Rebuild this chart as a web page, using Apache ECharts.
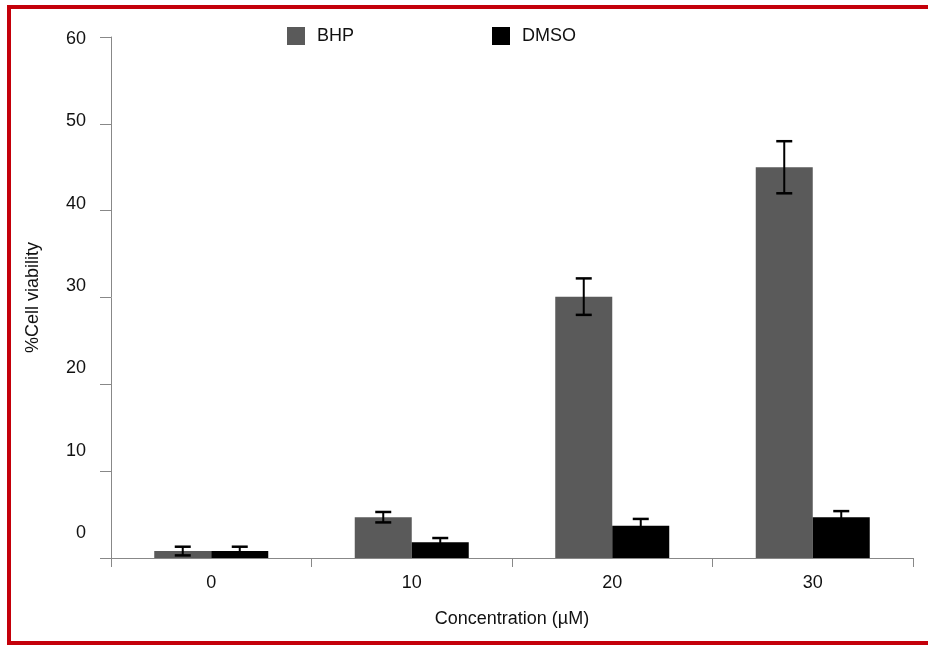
<!DOCTYPE html>
<html>
<head>
<meta charset="utf-8">
<script src="https://cdn.jsdelivr.net/npm/echarts@6/dist/echarts.min.js"></script>
<style>
  html, body { margin: 0; padding: 0; background: #fff; overflow: hidden; }
  #frame { position: absolute; left: 7px; top: 5px; width: 930px; height: 632px; border: 4px solid #c4000a; box-sizing: content-box; }
  #chart { position: absolute; left: 0; top: 0; width: 928px; height: 646px; }
</style>
</head>
<body>
<div id="frame"></div>
<div id="chart"></div>
<script>
const categories = ['0', '10', '20', '30'];
const bhpValues = [0.8, 4.7, 30.1, 45.0];
const bhpErrors = [0.5, 0.6, 2.1, 3.0];
const dmsoValues = [0.8, 1.8, 3.7, 4.7];
const dmsoErrors = [0.5, 0.5, 0.8, 0.7];

const BAR_W = 57;
const FONT = 'Liberation Sans, Arial, sans-serif';
const FS = 18;

function errorSeries(values, errors, shift) {
  return {
    type: 'custom',
    xAxisIndex: 0,
    yAxisIndex: 0,
    z: 5,
    silent: true,
    data: values.map((v, i) => [i, v, errors[i]]),
    encode: { x: 0, y: 1 },
    renderItem: function (params, api) {
      const i = api.value(0), v = api.value(1), e = api.value(2);
      const top = api.coord([i, v + e]);
      const bot = api.coord([i, v - e]);
      const x = top[0] + shift;
      const half = 8;
      const st = { stroke: '#000', lineWidth: 2 };
      return {
        type: 'group',
        children: [
          { type: 'line', shape: { x1: x, y1: top[1], x2: x, y2: bot[1] }, style: st },
          { type: 'line', shape: { x1: x - half, y1: top[1], x2: x + half, y2: top[1] }, style: { stroke: '#000', lineWidth: 2.5 } },
          { type: 'line', shape: { x1: x - half, y1: bot[1], x2: x + half, y2: bot[1] }, style: { stroke: '#000', lineWidth: 2.5 } }
        ]
      };
    }
  };
}

const legendText = { fontSize: FS, color: '#111', fontFamily: FONT, padding: [0, 0, 0, 7] };

const chart = echarts.init(document.getElementById('chart'), null, { renderer: 'canvas' });
chart.setOption({
  backgroundColor: 'transparent',
  animation: false,
  textStyle: { fontFamily: FONT },
  legend: [
    { left: 287, top: 27, padding: 0, itemWidth: 18, itemHeight: 18, icon: 'rect', data: ['BHP'], textStyle: legendText },
    { left: 492, top: 27, padding: 0, itemWidth: 18, itemHeight: 18, icon: 'rect', data: ['DMSO'], textStyle: legendText }
  ],
  grid: { left: 111, right: 15, top: 37, bottom: 88, containLabel: false },
  xAxis: {
    type: 'category',
    data: categories,
    name: 'Concentration (µM)',
    nameLocation: 'middle',
    nameGap: 52,
    nameTextStyle: { fontSize: FS, color: '#111', fontFamily: FONT },
    axisLine: { lineStyle: { color: '#888', width: 1 } },
    axisTick: { show: true, length: 9, lineStyle: { color: '#888' } },
    axisLabel: { fontSize: FS, color: '#111', margin: 16, fontFamily: FONT }
  },
  yAxis: [
    {
      type: 'value',
      min: 0, max: 60, interval: 10,
      position: 'left',
      name: '%Cell viability',
      nameLocation: 'middle',
      nameGap: 69,
      nameRotate: 90,
      nameTextStyle: { fontSize: FS, color: '#111', fontFamily: FONT },
      axisLine: { show: true, lineStyle: { color: '#888', width: 1 } },
      axisTick: { show: true, length: 11, lineStyle: { color: '#888' } },
      axisLabel: { show: false },
      splitLine: { show: false }
    },
    {
      type: 'value',
      min: -3.04, max: 60.24,
      position: 'left',
      axisLine: { show: false },
      axisTick: { show: false },
      splitLine: { show: false },
      axisLabel: {
        fontSize: FS, color: '#111', margin: 25, fontFamily: FONT,
        showMinLabel: false, showMaxLabel: true,
        formatter: function (v) {
          const r = Math.round(v);
          return (Math.abs(v - r) < 1e-6 && r % 10 === 0) ? String(r) : '';
        }
      }
    }
  ],
  series: [
    { name: 'BHP', type: 'bar', data: bhpValues, barWidth: BAR_W, barGap: '0%',
      itemStyle: { color: '#5a5a5a' }, xAxisIndex: 0, yAxisIndex: 0 },
    { name: 'DMSO', type: 'bar', data: dmsoValues, barWidth: BAR_W, barGap: '0%',
      itemStyle: { color: '#000000' }, xAxisIndex: 0, yAxisIndex: 0 },
    errorSeries(bhpValues, bhpErrors, -BAR_W / 2),
    errorSeries(dmsoValues, dmsoErrors, BAR_W / 2)
  ]
});
</script>
</body>
</html>
